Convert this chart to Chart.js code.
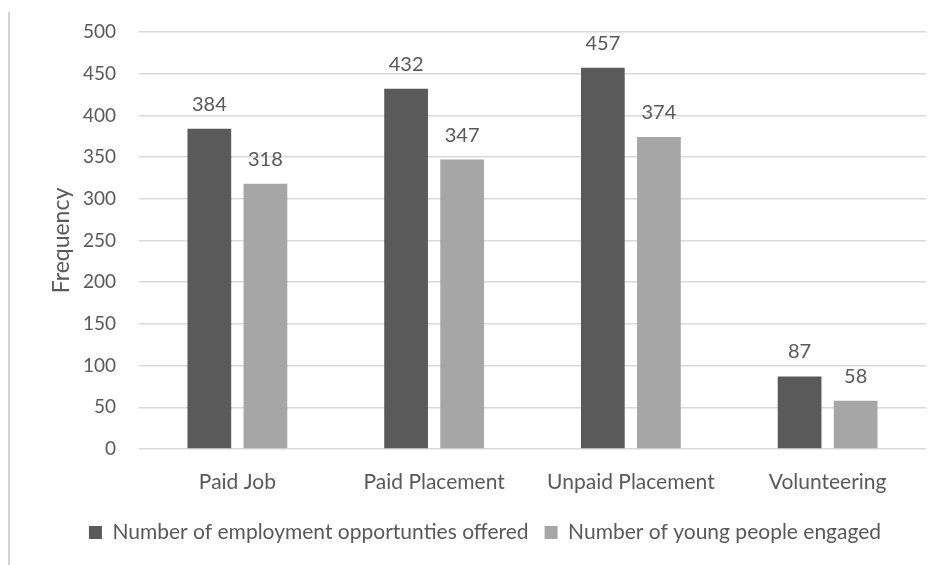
<!DOCTYPE html>
<html>
<head>
<meta charset="utf-8">
<script src="https://cdn.jsdelivr.net/npm/chart.js@4/dist/chart.umd.min.js"></script>
<style>
  html, body { margin: 0; padding: 0; background: #fff; }
  #wrap { position: relative; width: 944px; height: 565px; }
  #edge { position: absolute; left: 8px; top: 12px; width: 2px; height: 553px; background: #d4d4d4; }
  canvas { position: absolute; left: 0; top: 0; }
</style>
</head>
<body>
<div id="wrap">
  <div id="edge"></div>
  <canvas id="chart" width="944" height="565"></canvas>
</div>
<script>
// catégories et séries
const categories = ['Paid Job', 'Paid Placement', 'Unpaid Placement', 'Volunteering'];
const offered = [384, 432, 457, 87];
const engaged = [318, 347, 374, 58];
const yTicks = [0, 50, 100, 150, 200, 250, 300, 350, 400, 450, 500];

const textColor = '#595959';
const fontFamily = 'Lato, "Open Sans", sans-serif';

// étiquettes de valeur au-dessus des barres
const barLabels = {
    id: 'barLabels',
    afterDatasetsDraw(chart) {
        const ctx = chart.ctx;
        ctx.save();
        ctx.fillStyle = textColor;
        ctx.font = '20px ' + fontFamily;
        ctx.textAlign = 'center';
        ctx.textBaseline = 'alphabetic';
        chart.data.datasets.forEach((ds, i) => {
            chart.getDatasetMeta(i).data.forEach((bar, j) => {
                ctx.fillText(ds.data[j], bar.x, bar.y - 18);
            });
        });
        ctx.restore();
    }
};

new Chart(document.getElementById('chart').getContext('2d'), {
    type: 'bar',
    data: {
        labels: categories,
        datasets: [
            {
                label: 'Number of employment opportunties offered',
                data: offered,
                backgroundColor: '#5a5a5a',
                categoryPercentage: 0.57,
                barPercentage: 0.78
            },
            {
                label: 'Number of young people engaged',
                data: engaged,
                backgroundColor: '#a6a6a6',
                categoryPercentage: 0.57,
                barPercentage: 0.78
            }
        ]
    },
    options: {
        responsive: false,
        animation: false,
        layout: { padding: { left: 44, right: 18, top: 32, bottom: 12 } },
        scales: {
            x: {
                grid: { display: false },
                border: { display: false },
                ticks: { color: textColor, font: { family: fontFamily, size: 21 }, padding: 13 },
                afterFit(scale) { scale.height = 57; }
            },
            y: {
                min: 0,
                max: 500,
                afterBuildTicks(scale) { scale.ticks = yTicks.map(v => ({ value: v })); },
                grid: { color: '#d9d9d9', lineWidth: 1.5, drawTicks: false },
                border: { display: false },
                ticks: { color: textColor, font: { family: fontFamily, size: 19 }, padding: 23 },
                title: {
                    display: true,
                    text: 'Frequency',
                    color: textColor,
                    font: { family: fontFamily, size: 23 },
                    padding: { top: 4, bottom: 4 }
                },
                afterFit(scale) {
                    scale.width = 95;
                    scale.paddingTop = 8;
                    scale.paddingBottom = 8;
                }
            }
        },
        plugins: {
            legend: {
                position: 'bottom',
                labels: {
                    color: textColor,
                    font: { family: fontFamily, size: 21 },
                    boxWidth: 13,
                    boxHeight: 13,
                    padding: 16
                }
            },
            tooltip: { enabled: false }
        }
    },
    plugins: [barLabels]
});
</script>
</body>
</html>
